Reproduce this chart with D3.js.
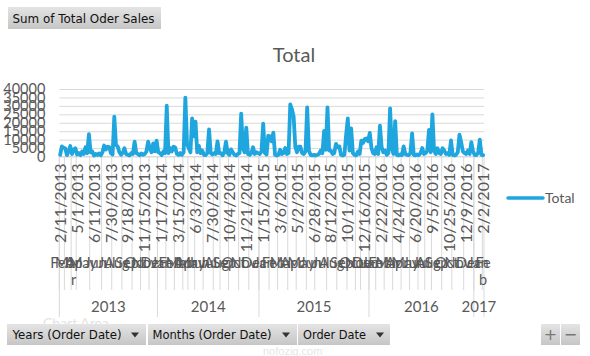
<!DOCTYPE html>
<html><head><meta charset="utf-8">
<script src="https://cdn.jsdelivr.net/npm/d3@7"></script>
<style>
body{margin:0;background:#fff;}
svg{display:block;}
</style></head><body>
<svg id="c" width="590" height="356"></svg>
<script>
// ---- data ----
const values = [
1000,6000,5200,4900,800,3000,6200,1500,4000,4900,
1200,2000,800,3000,1500,5500,2000,13200,2500,3000,
600,1500,900,1800,700,2500,6500,4200,5800,5600,
2000,1200,23600,6800,6000,2500,1000,2200,4900,1500,
1000,600,2000,1500,8800,2000,1500,700,1800,1000,
1500,3000,8800,4900,2500,7800,3000,9400,2500,2000,
800,3000,2000,30100,2000,5000,3000,5800,5300,1500,
900,2000,1000,2500,34900,7500,4900,2500,22600,12000,
20600,2500,6300,2000,3500,1000,800,2000,16100,2000,
1200,2000,1500,9000,2000,2000,700,2500,8800,2000,
1000,4200,2500,1000,600,1500,2000,25400,4900,2500,
17100,1500,1000,2000,5500,1500,2500,2000,1500,3000,
19500,2000,1200,12300,12000,9000,14100,1000,600,1000,
4000,1500,2000,5000,1500,2000,30900,28000,23600,5500,
2500,5800,5800,2000,1500,3000,29100,3500,1000,700,
1000,600,1000,1500,3500,2000,15100,4000,29100,3500,
3500,1500,2000,7500,5500,6000,1000,600,1000,12700,
22600,3500,16700,2000,1000,700,3000,1500,9400,8000,
10300,10700,9000,14000,4900,2000,1500,5500,1500,18300,
5500,2500,3500,1000,2000,28500,4900,1500,21000,1000,
700,1200,800,6000,1500,1000,800,2000,13700,1000,
700,1200,800,2000,5000,1500,2000,3500,15700,2500,
25000,3500,1500,4900,2000,1500,4900,3500,1500,2000,
1000,9500,1000,700,1000,2500,13000,8500,3000,2000,
1500,3500,1500,8500,3000,1000,800,2000,10000,1000,
800];
const labelEvery = 10;
const dateLabels = ["2/11/2013","5/1/2013","6/11/2013","7/30/2013","9/18/2013","11/15/2013",
"1/17/2014","3/15/2014","6/3/2014","7/30/2014","10/4/2014","11/21/2014",
"1/15/2015","3/6/2015","5/2/2015","6/28/2015","8/12/2015","10/1/2015","12/16/2015",
"2/22/2016","4/24/2016","6/20/2016","9/5/2016","10/25/2016","12/9/2016","2/2/2017"];
const monthNames = [
"Feb","Mar","Apr","May","Jun","Jul","Aug","Sep","Oct","Nov","Dec",
"Jan","Feb","Mar","Apr","May","Jun","Jul","Aug","Sep","Oct","Nov","Dec",
"Jan","Feb","Mar","Apr","May","Jun","Jul","Aug","Sep","Oct","Nov","Dec",
"Jan","Feb","Mar","Apr","May","Jun","Jul","Aug","Sep","Oct","Nov","Dec",
"Jan","Feb"];
const monthCounts = [
3,4,3,8,7,6,6,6,5,5,5,
5,5,5,3,4,5,6,4,5,6,6,6,
6,5,6,5,6,5,7,6,6,5,3,5,
4,5,5,5,5,5,4,4,6,6,7,6,
5,1];
const years = ["2013","2014","2015","2016","2017"];
const monthsPerYear = [11,12,12,12,2];
const wrappedMonths = [2,48]; // month groups whose label wraps to 2 lines
const yTicks = [0,5000,10000,15000,20000,25000,30000,35000,40000];
const seriesName = "Total";

// ---- drawing ----
const svg = d3.select("#c");
const L=59.3, R=484, T=89, B=156.5;
const TXT="#595959", GRID="#d9d9d9", BLUE="#1fa6de";
const FONT="'Century Gothic','Lato',sans-serif";

const x = d3.scaleBand().domain(d3.range(values.length)).range([L,R]);
const bw = x.bandwidth();
const y = d3.scaleLinear().domain([0,40000]).range([B,T]);

// title
svg.append("text").attr("x",294).attr("y",62).attr("text-anchor","middle")
  .attr("font-family",FONT).attr("font-size",20).attr("fill",TXT).text("Total");

// gridlines
const g = svg.append("g").attr("transform",`translate(${L},0)`)
  .call(d3.axisLeft(y).tickValues(yTicks).tickSize(-(R-L)).tickFormat(""));
g.select(".domain").remove();
g.selectAll("line").attr("stroke",GRID);

// y labels
const ya = svg.append("g").attr("transform",`translate(${L},0)`)
  .call(d3.axisLeft(y).tickValues(yTicks).tickSize(0).tickPadding(14).tickFormat(d=>d));
ya.select(".domain").remove();
ya.selectAll("text").attr("font-family",FONT).attr("font-size",14.5).attr("fill",TXT);

// month and year separators
let cum=0; const monthStart=[];
monthCounts.forEach(c=>{monthStart.push(cum); cum+=c;});
const bx = i => L + i*bw;
const sep = svg.append("g").attr("stroke",GRID).attr("stroke-width",1);
monthStart.forEach((s,k)=>{
  sep.append("line").attr("x1",bx(s)).attr("x2",bx(s)).attr("y1",B).attr("y2",290);
});
let mi=0; const yearStart=[];
monthsPerYear.forEach(n=>{yearStart.push(monthStart[mi]); mi+=n;});
yearStart.concat([values.length]).forEach(s=>{
  sep.append("line").attr("x1",bx(s)).attr("x2",bx(s)).attr("y1",B).attr("y2",317);
});
svg.append("line").attr("x1",L).attr("x2",R).attr("y1",B).attr("y2",B).attr("stroke",GRID);

// date labels
const xa = svg.append("g").attr("transform",`translate(0,${B})`)
  .call(d3.axisBottom(x).tickValues(d3.range(0,values.length,labelEvery)).tickSize(0)
  .tickFormat(i=>dateLabels[i/labelEvery]));
xa.select(".domain").remove();
xa.selectAll("text").attr("transform","rotate(-90)").attr("text-anchor","end")
  .attr("x",-7).attr("y",0).attr("dy","0.35em")
  .attr("font-family",FONT).attr("font-size",16).attr("fill",TXT);

// month labels
monthNames.forEach((m,k)=>{
  const cx = bx(monthStart[k] + monthCounts[k]/2);
  const t = svg.append("text").attr("x",cx).attr("y",268).attr("text-anchor","middle")
    .attr("font-family",FONT).attr("font-size",14.5).attr("fill",TXT);
  if (wrappedMonths.includes(k)) {
    t.text(m.slice(0,2));
    svg.append("text").attr("x",cx).attr("y",285).attr("text-anchor","middle")
      .attr("font-family",FONT).attr("font-size",14.5).attr("fill",TXT).text(m.slice(2));
  } else t.text(m);
});
// year labels
years.forEach((yr,k)=>{
  const s = yearStart[k], e = (k+1<years.length)?yearStart[k+1]:values.length;
  svg.append("text").attr("x",bx((s+e)/2)).attr("y",312).attr("text-anchor","middle")
    .attr("font-family",FONT).attr("font-size",15).attr("fill",TXT).text(yr);
});

// series line
svg.append("path").datum(values)
  .attr("d", d3.line().x((d,i)=>x(i)+bw/2).y(d=>y(d)))
  .attr("fill","none").attr("stroke",BLUE).attr("stroke-width",3.8)
  .attr("stroke-linejoin","round").attr("stroke-linecap","round");

// legend
svg.append("line").attr("x1",508).attr("x2",543).attr("y1",198).attr("y2",198)
  .attr("stroke",BLUE).attr("stroke-width",3.5).attr("stroke-linecap","round");
svg.append("text").attr("x",545).attr("y",198).attr("dy","0.35em")
  .attr("font-family",FONT).attr("font-size",14).attr("fill",TXT).text(seriesName);

// faint overlays
svg.append("text").attr("x",43).attr("y",328).attr("font-family",FONT).attr("font-size",14)
  .attr("fill","#e4e4e4").text("Chart Area");
svg.append("text").attr("x",263).attr("y",355).attr("font-family","sans-serif").attr("font-size",11)
  .attr("fill","#e6e6e6").text("nofozig.com");

// buttons
const defs = svg.append("defs");
const grad = defs.append("linearGradient").attr("id","bg").attr("x1",0).attr("x2",0).attr("y1",0).attr("y2",1);
grad.append("stop").attr("offset","0%").attr("stop-color","#e4e4e4");
grad.append("stop").attr("offset","100%").attr("stop-color","#c6c6c6");
const BFONT="'DejaVu Sans','Liberation Sans',sans-serif";
function button(x0,y0,w,h,label,tx,tw,arrowX){
  svg.append("rect").attr("x",x0).attr("y",y0).attr("width",w).attr("height",h).attr("fill","url(#bg)");
  svg.append("text").attr("x",tx).attr("y",y0+h/2).attr("dy","0.36em")
    .attr("font-family",BFONT).attr("font-size",12.5).attr("fill","#111")
    .attr("textLength",tw).attr("lengthAdjust","spacingAndGlyphs").text(label);
  if(arrowX){
    const cy=y0+h/2;
    svg.append("path").attr("d",`M${arrowX-4},${cy-2}L${arrowX+4},${cy-2}L${arrowX},${cy+3}Z`).attr("fill","#333");
  }
}
button(8,7,153,22,"Sum of Total Oder Sales",12.5,142,null);
button(7,324,139,21,"Years (Order Date)",12.5,109,135);
button(148,324,149,21,"Months (Order Date)",152.5,119,286);
button(298,324,92,21,"Order Date",303,63,380);
svg.append("rect").attr("x",541).attr("y",324).attr("width",19).attr("height",21).attr("fill","url(#bg)");
svg.append("rect").attr("x",561).attr("y",324).attr("width",19).attr("height",21).attr("fill","url(#bg)");
svg.append("text").attr("x",550.5).attr("y",334.5).attr("dy","0.36em").attr("text-anchor","middle")
  .attr("font-family",BFONT).attr("font-size",16).attr("fill","#777").text("+");
svg.append("text").attr("x",570.5).attr("y",334.5).attr("dy","0.36em").attr("text-anchor","middle")
  .attr("font-family",BFONT).attr("font-size",16).attr("fill","#777").text("−");
</script>
</body></html>
